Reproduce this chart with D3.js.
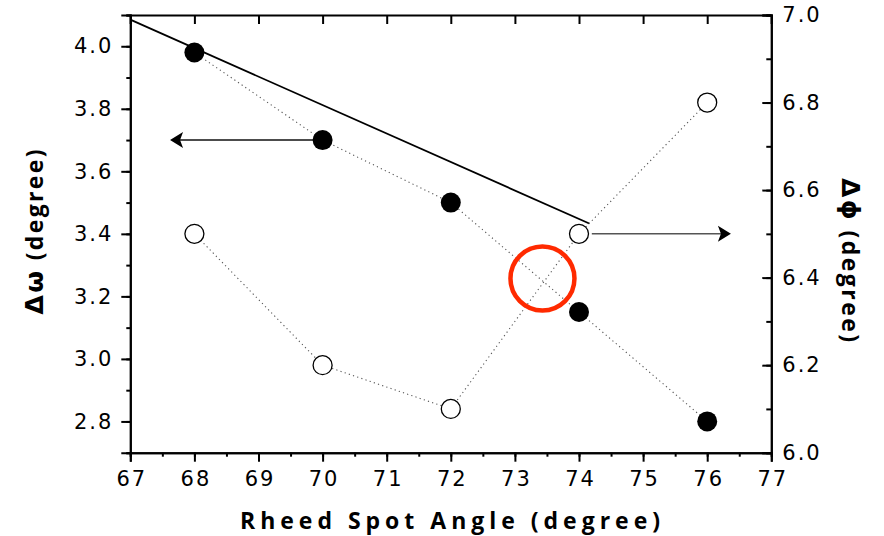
<!DOCTYPE html>
<html><head><meta charset="utf-8">
<script src="https://cdn.jsdelivr.net/npm/d3@7"></script>
<style>body{margin:0;background:#fff}</style>
</head><body>
<svg id="c" width="884" height="536"></svg>
<script>
// ---- data ----
const angles = [68, 70, 72, 74, 76];
const deltaOmega = [3.98, 3.70, 3.50, 3.15, 2.80];   // left axis, filled
const deltaPhi = [6.50, 6.20, 6.10, 6.50, 6.80];     // right axis, open
const fitLine = [[67, 4.085], [74.16, 3.433]];       // solid line, left axis
const leftArrow = [[70, 3.70], [67.62, 3.70]];       // left axis
const rightArrow = [[74.2, 6.50], [76.37, 6.50]];    // right axis
const highlight = [73.43, 3.257];                    // red ring, left axis
const xTicks = [67, 68, 69, 70, 71, 72, 73, 74, 75, 76, 77];
const yLeftTicks = [2.8, 3.0, 3.2, 3.4, 3.6, 3.8, 4.0];
const yRightTicks = [6.0, 6.2, 6.4, 6.6, 6.8, 7.0];

const L = 130.3, R = 771.3, T = 15, B = 452.7;
const svg = d3.select("#c");
const x = d3.scaleLinear().domain([67, 77]).range([L, R]);
const yL = d3.scaleLinear().domain([2.7, 4.1]).range([B, T]);
const yR = d3.scaleLinear().domain([6.0, 7.0]).range([B, T]);

const tickFont = "'DejaVu Sans', sans-serif";
function styleAxis(g) {
  g.selectAll("path.domain").attr("stroke", "#000").attr("stroke-width", 2);
  g.selectAll(".tick line").attr("stroke", "#000").attr("stroke-width", 2);
  g.selectAll("text").attr("font-family", tickFont).attr("font-size", 21)
    .attr("fill", "#000").attr("letter-spacing", 2);
}
// minor ticks
const xMinor = d3.range(67, 77.01, 0.5);
const yLMinor = d3.range(2.7, 4.101, 0.1);
const yRMinor = d3.range(6.0, 7.001, 0.1);

// bottom axis
svg.append("g").attr("transform", `translate(0,${B})`)
  .call(d3.axisBottom(x).tickValues(xMinor).tickSize(4).tickFormat(""))
  .call(styleAxis);
svg.append("g").attr("transform", `translate(0,${B})`)
  .call(d3.axisBottom(x).tickValues(xTicks).tickSize(9).tickPadding(9).tickFormat(d3.format("d")))
  .call(styleAxis)
  .call(g => g.selectAll("text").attr("dx", 1));
// top axis (inward ticks)
svg.append("g").attr("transform", `translate(0,${T})`)
  .call(d3.axisTop(x).tickValues(xTicks).tickSize(-9).tickFormat(""))
  .call(styleAxis);
// left axis
svg.append("g").attr("transform", `translate(${L},0)`)
  .call(d3.axisLeft(yL).tickValues(yLMinor).tickSize(4).tickFormat(""))
  .call(styleAxis);
svg.append("g").attr("transform", `translate(${L},0)`)
  .call(d3.axisLeft(yL).tickValues(yLeftTicks).tickSize(9).tickPadding(8).tickFormat(d3.format(".1f")))
  .call(styleAxis);
// right axis (inward ticks)
svg.append("g").attr("transform", `translate(${R},0)`)
  .call(d3.axisRight(yR).tickValues(yRMinor).tickSize(-5).tickFormat(""))
  .call(styleAxis);
svg.append("g").attr("transform", `translate(${R},0)`)
  .call(d3.axisRight(yR).tickValues(yRightTicks).tickSize(-9).tickPadding(11).tickFormat(d3.format(".1f")))
  .call(styleAxis);

// fit line
svg.append("path").datum(fitLine)
  .attr("d", d3.line().x(d => x(d[0])).y(d => yL(d[1])))
  .attr("stroke", "#000").attr("stroke-width", 1.8).attr("fill", "none");

// dotted connectors
const omegaPts = angles.map((a, i) => [a, deltaOmega[i]]);
const phiPts = angles.map((a, i) => [a, deltaPhi[i]]);
svg.append("path").datum(omegaPts)
  .attr("d", d3.line().x(d => x(d[0])).y(d => yL(d[1])))
  .attr("stroke", "#555").attr("stroke-width", 1.1).attr("stroke-dasharray", "1.2,3.2").attr("fill", "none");
svg.append("path").datum(phiPts)
  .attr("d", d3.line().x(d => x(d[0])).y(d => yR(d[1])))
  .attr("stroke", "#555").attr("stroke-width", 1.1).attr("stroke-dasharray", "1.2,3.2").attr("fill", "none");

// arrows
function arrow(pts, ys, color) {
  const x0 = x(pts[0][0]), x1 = x(pts[1][0]), yy = ys(pts[0][1]);
  const dir = Math.sign(x1 - x0);
  svg.append("line").attr("x1", x0).attr("x2", x1 - dir * 8).attr("y1", yy).attr("y2", yy)
    .attr("stroke", color).attr("stroke-width", 1.5);
  const back = x1 - dir * 13, notch = x1 - dir * 10;
  svg.append("path")
    .attr("d", `M${x1},${yy} L${back},${yy - 8} L${notch},${yy} L${back},${yy + 8} Z`)
    .attr("fill", "#000");
}
arrow(leftArrow, yL, "#111");
arrow(rightArrow, yR, "#555");

// points
svg.append("g").selectAll("circle").data(phiPts).join("circle")
  .attr("cx", d => x(d[0])).attr("cy", d => yR(d[1])).attr("r", 9.5)
  .attr("fill", "#fff").attr("stroke", "#000").attr("stroke-width", 1.3);
svg.append("g").selectAll("circle").data(omegaPts).join("circle")
  .attr("cx", d => x(d[0])).attr("cy", d => yL(d[1])).attr("r", 10)
  .attr("fill", "#000");

// red ring
svg.append("circle").attr("cx", x(highlight[0])).attr("cy", yL(highlight[1])).attr("r", 32)
  .attr("fill", "none").attr("stroke", "#ff2a00").attr("stroke-width", 4.5);

// titles
const titleFont = "'Open Sans', sans-serif";
svg.append("text").attr("x", 450).attr("y", 529).attr("text-anchor", "middle")
  .attr("font-family", titleFont).attr("font-weight", "bold").attr("font-size", 23)
  .attr("textLength", 420).attr("lengthAdjust", "spacing")
  .text("Rheed Spot Angle (degree)");

function axisTitle(transform, greek, len) {
  const t = svg.append("text").attr("transform", transform).attr("text-anchor", "middle")
    .attr("font-family", titleFont).attr("font-weight", "bold").attr("font-size", 23)
    .attr("textLength", len).attr("lengthAdjust", "spacing");
  t.append("tspan").attr("font-family", "'DejaVu Sans', sans-serif").attr("font-size", 25).text(greek);
  t.append("tspan").text(" (degree)");
}
axisTitle("translate(43,232) rotate(-90)", "Δω", 165);
axisTitle("translate(842,260) rotate(90)", "Δϕ", 164);
</script>
</body></html>
